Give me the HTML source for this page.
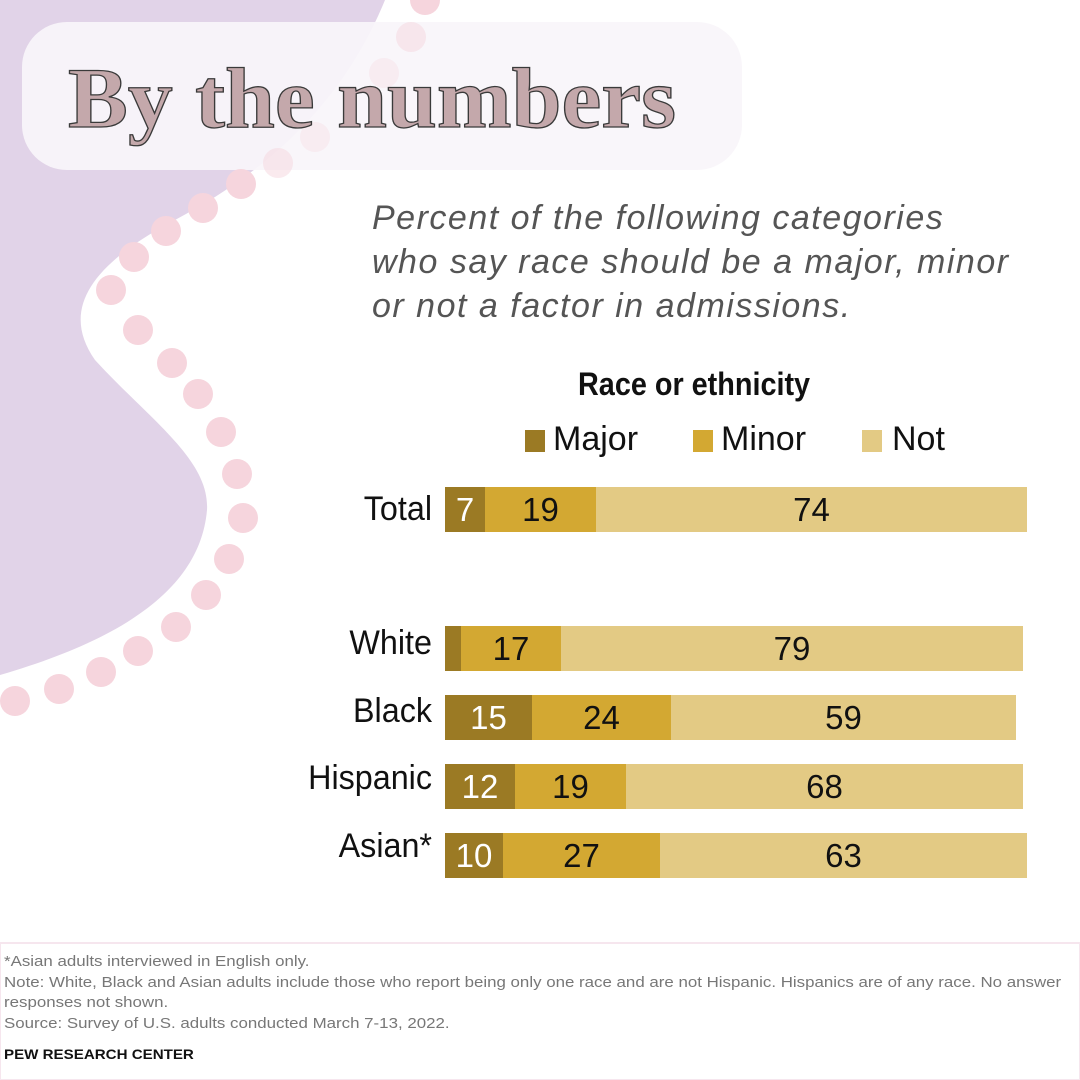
<!DOCTYPE html>
<html><head><meta charset="utf-8"><style>
body{margin:0;width:1080px;height:1080px;overflow:hidden;background:#fff;position:relative;font-family:"Liberation Sans",sans-serif}
.a{position:absolute;white-space:nowrap}
.lab{font-size:34px;color:#111;text-align:right;width:160px;left:272px;transform:scaleX(.95);transform-origin:right}
.bar{position:absolute;left:445px;height:45px;display:flex}
.bar div{height:100%;display:flex;align-items:center;justify-content:center;font-size:33px;color:#111}
.m{background:#9b7a24;color:#fff!important}.n{background:#d3a832}.o{background:#e3ca84}
.foot{font-size:15px;color:#777;left:4px;line-height:20.5px;transform:scaleX(1.125);transform-origin:left}
</style></head><body>
<svg class="a" style="left:0;top:0" width="1080" height="1080">
<path d="M0,0 L385,0 C340,110 260,175 175,220 C90,265 60,310 95,360 C150,420 210,460 207,510 C200,590 120,640 0,675 Z" fill="#e1d3e8"/>
<rect x="22" y="22" width="720" height="148" rx="45" fill="#f8f5fa" fill-opacity="0.92"/>
<g fill="#f6d5dd">
<circle cx="425" cy="0" r="15"/><circle cx="411" cy="37" r="15" opacity=".5"/><circle cx="384" cy="73" r="15" opacity=".3"/>
<circle cx="315" cy="137" r="15" opacity=".3"/><circle cx="278" cy="163" r="15" opacity=".5"/>
<circle cx="241" cy="184" r="15"/><circle cx="203" cy="208" r="15"/><circle cx="166" cy="231" r="15"/><circle cx="134" cy="257" r="15"/><circle cx="111" cy="290" r="15"/><circle cx="138" cy="330" r="15"/>
<circle cx="172" cy="363" r="15"/><circle cx="198" cy="394" r="15"/><circle cx="221" cy="432" r="15"/><circle cx="237" cy="474" r="15"/><circle cx="243" cy="518" r="15"/><circle cx="229" cy="559" r="15"/><circle cx="206" cy="595" r="15"/><circle cx="176" cy="627" r="15"/><circle cx="138" cy="651" r="15"/><circle cx="101" cy="672" r="15"/><circle cx="59" cy="689" r="15"/><circle cx="15" cy="701" r="15"/>
</g>
<text x="68" y="127" font-family="Liberation Serif,serif" font-weight="bold" font-size="86" fill="#c4a8ab" stroke="#3a3a3a" stroke-width="1.3" textLength="608" lengthAdjust="spacingAndGlyphs">By the numbers</text>
<rect x="0" y="943" width="1080" height="137" fill="#fff" stroke="#f6e6ee" stroke-width="2"/>
</svg>
<div class="a" style="left:372px;top:196px;font-size:34px;font-style:italic;color:#555;line-height:44px;letter-spacing:1.5px">Percent of the following categories<br>who say race should be a major, minor<br>or not a factor in admissions.</div>
<div class="a" style="left:578px;top:366px;font-size:32px;font-weight:bold;color:#111;transform:scaleX(.9);transform-origin:left">Race or ethnicity</div>
<div class="a" style="left:525px;top:430px;width:20px;height:22px;background:#9b7a24"></div>
<div class="a" style="left:553px;top:420px;font-size:34px;color:#111">Major</div>
<div class="a" style="left:693px;top:430px;width:20px;height:22px;background:#d3a832"></div>
<div class="a" style="left:721px;top:420px;font-size:34px;color:#111">Minor</div>
<div class="a" style="left:862px;top:430px;width:20px;height:22px;background:#e3ca84"></div>
<div class="a" style="left:892px;top:420px;font-size:34px;color:#111">Not</div>

<div class="a lab" style="top:490px">Total</div>
<div class="bar" style="top:487px"><div class="m" style="width:40px">7</div><div class="n" style="width:111px">19</div><div class="o" style="width:431px">74</div></div>
<div class="a lab" style="top:624px">White</div>
<div class="bar" style="top:626px"><div class="m" style="width:16px"></div><div class="n" style="width:100px">17</div><div class="o" style="width:462px">79</div></div>
<div class="a lab" style="top:692px">Black</div>
<div class="bar" style="top:695px"><div class="m" style="width:87px">15</div><div class="n" style="width:139px">24</div><div class="o" style="width:345px">59</div></div>
<div class="a lab" style="top:759px">Hispanic</div>
<div class="bar" style="top:764px"><div class="m" style="width:70px">12</div><div class="n" style="width:111px">19</div><div class="o" style="width:397px">68</div></div>
<div class="a lab" style="top:827px">Asian*</div>
<div class="bar" style="top:833px"><div class="m" style="width:58px">10</div><div class="n" style="width:157px">27</div><div class="o" style="width:367px">63</div></div>

<div class="a foot" style="top:952px">*Asian adults interviewed in English only.<br>Note: White, Black and Asian adults include those who report being only one race and are not Hispanic. Hispanics are of any race. No answer<br>responses not shown.<br>Source: Survey of U.S. adults conducted March 7-13, 2022.</div>
<div class="a" style="left:4px;top:1046px;font-size:14px;font-weight:bold;color:#111;transform:scaleX(1.08);transform-origin:left">PEW RESEARCH CENTER</div>
</body></html>
